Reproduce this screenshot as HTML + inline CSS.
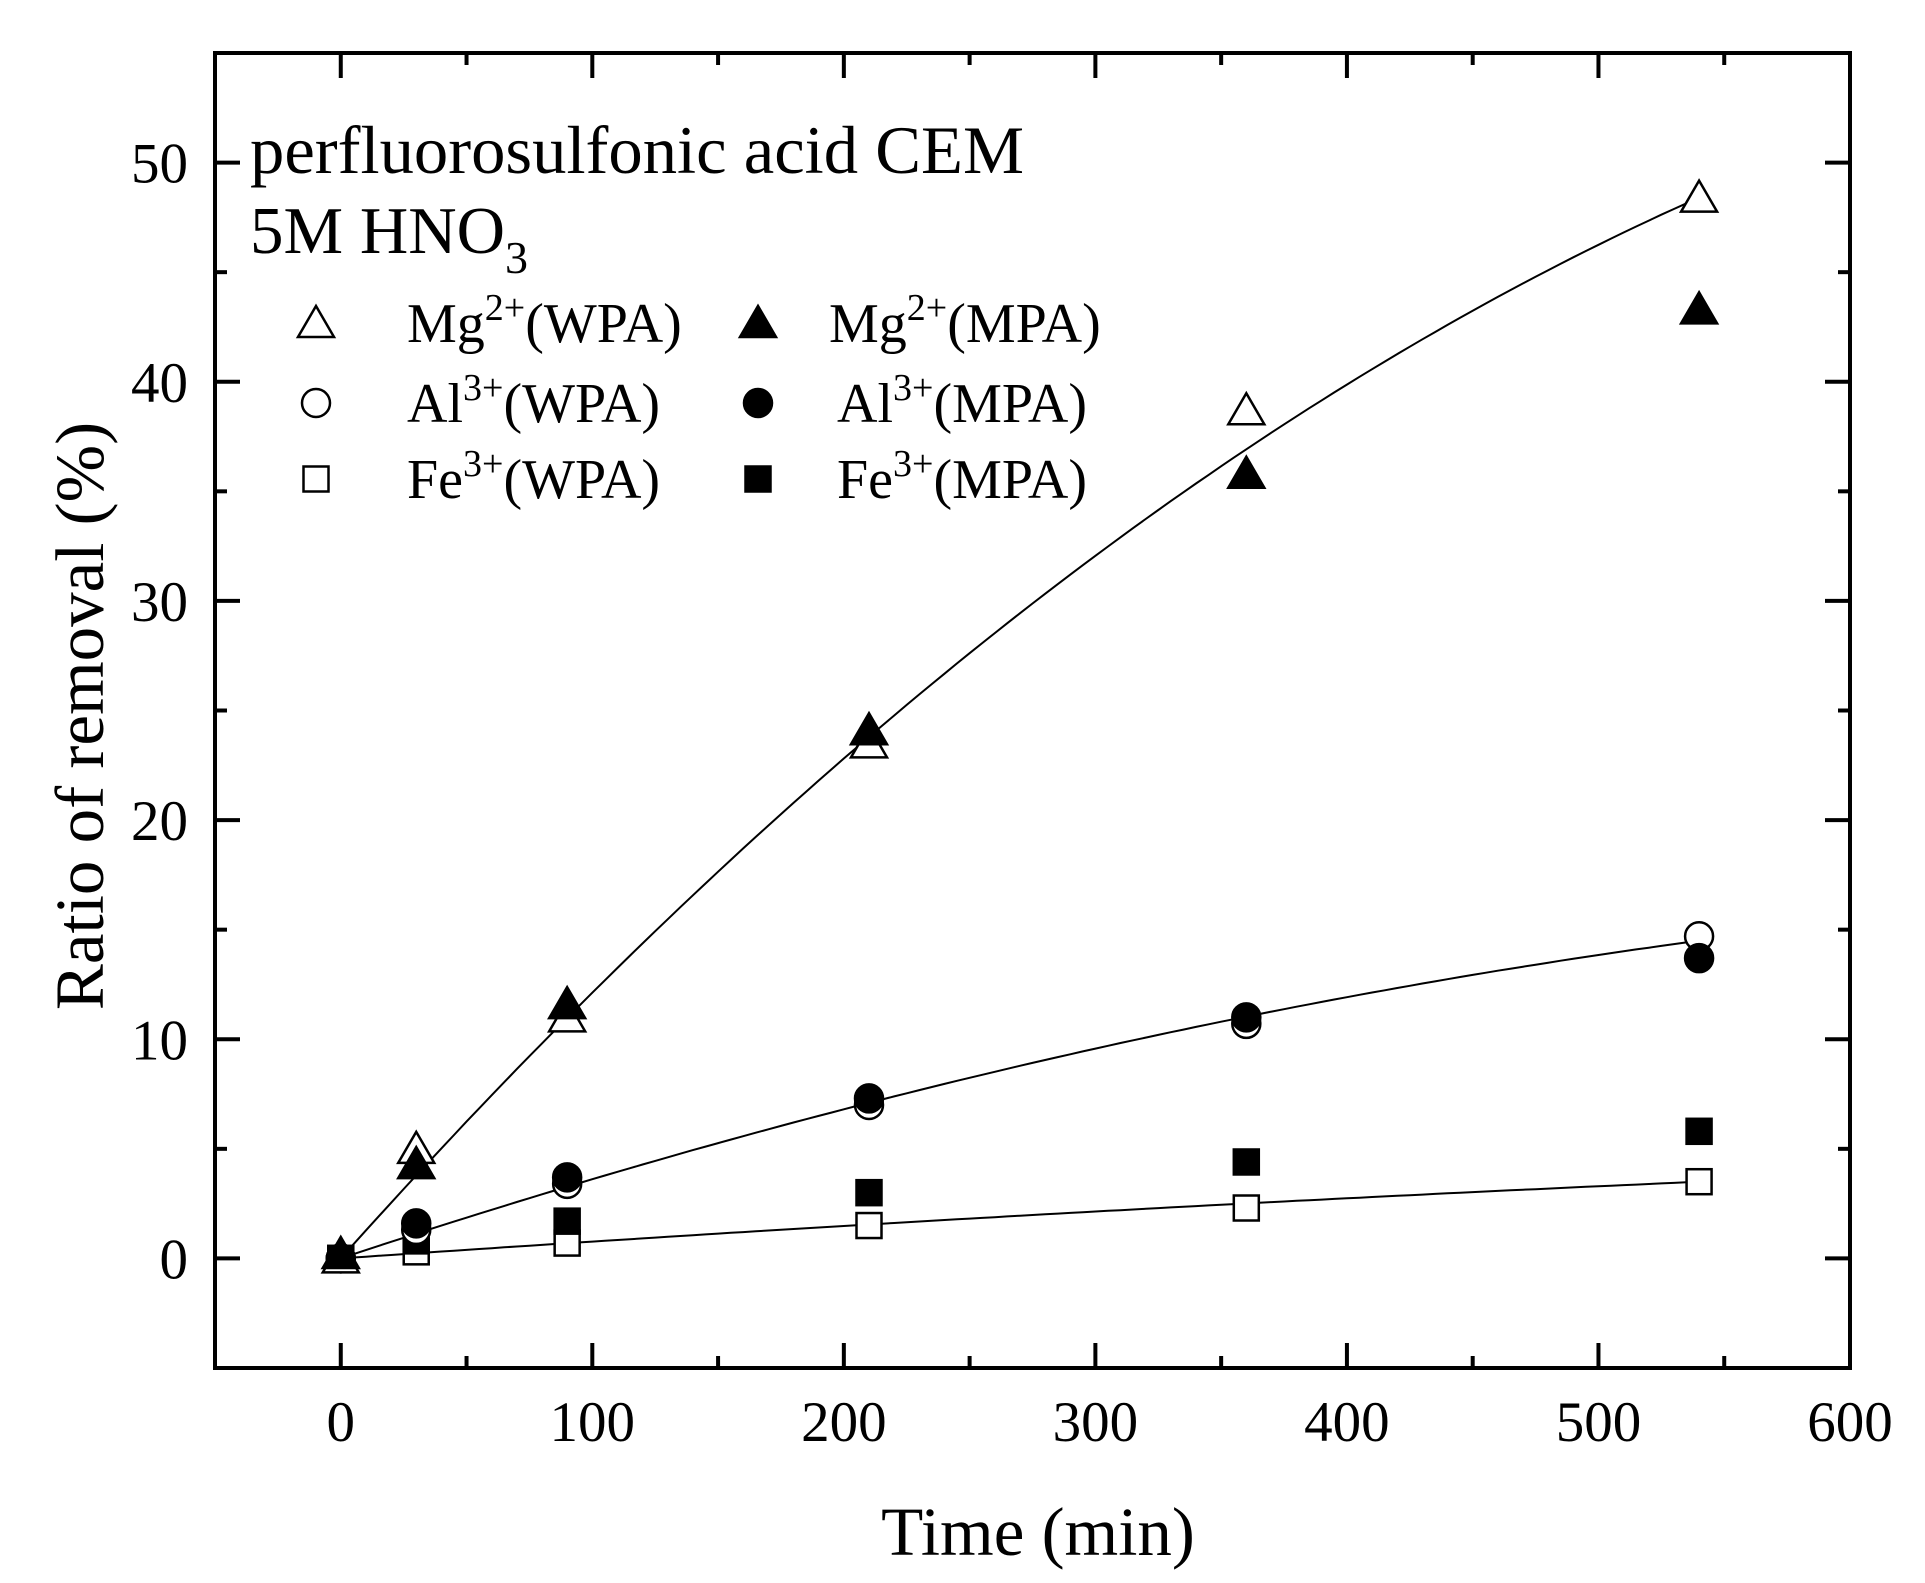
<!DOCTYPE html>
<html><head><meta charset="utf-8"><style>
html,body{margin:0;padding:0;background:#fff;}
svg{display:block;font-family:"Liberation Serif",serif;}
</style></head><body>
<svg id="c" width="1925" height="1583" viewBox="0 0 1925 1583" xmlns="http://www.w3.org/2000/svg"></svg>
<script>
const X=t=>215+(t+50)*(1635/650), Y=v=>53+(55-v)*(1315/60);
let s='';
function curve(c,d){let p=[];for(let t=0;t<=540;t+=5)p.push(X(t).toFixed(1)+','+Y(c*t+d*t*t).toFixed(1));s+=`<polyline points="${p.join(' ')}" fill="none" stroke="#000" stroke-width="2"/>`;}
curve(0.1284,-7.18e-5);curve(0.03824,-2.11e-5);curve(0.00795,-2.73e-6);
function tri(x,y,f){s+=`<polygon points="${x},${y-17} ${x-18},${y+14} ${x+18},${y+14}" fill="${f?'#000':'#fff'}" stroke="#000" stroke-width="2.5"/>`;}
function cir(x,y,f){s+=`<circle cx="${x}" cy="${y}" r="14" fill="${f?'#000':'#fff'}" stroke="#000" stroke-width="2.5"/>`;}
function sq(x,y,f){s+=`<rect x="${x-12.5}" y="${y-12.5}" width="25" height="25" fill="${f?'#000':'#fff'}" stroke="#000" stroke-width="2.5"/>`;}
const T=[0,30,90,210,360,540];
const d={mw:[0,5.0,11.0,23.5,38.7,48.4],mm:[0.2,4.3,11.6,24.1,35.8,43.3],aw:[0,1.3,3.4,7.0,10.7,14.7],am:[0,1.6,3.7,7.3,11.0,13.7],fw:[0,0.3,0.7,1.5,2.3,3.5],fm:[0,0.8,1.7,3.0,4.4,5.8]};
T.forEach((t,i)=>{sq(X(t),Y(d.fw[i]),0);});
T.forEach((t,i)=>{sq(X(t),Y(d.fm[i]),1);});
T.forEach((t,i)=>{cir(X(t),Y(d.aw[i]),0);});
T.forEach((t,i)=>{cir(X(t),Y(d.am[i]),1);});
T.forEach((t,i)=>{tri(X(t),Y(d.mw[i]),0);});
T.forEach((t,i)=>{tri(X(t),Y(d.mm[i]),1);});
s+=`<rect x="215" y="53" width="1635" height="1315" fill="none" stroke="#000" stroke-width="4"/>`;
for(let t=-50;t<=600;t+=50){const x=X(t),L=t%100==0?25:12;
 s+=`<line x1="${x}" y1="1368" x2="${x}" y2="${1368-L}" stroke="#000" stroke-width="4"/><line x1="${x}" y1="53" x2="${x}" y2="${53+L}" stroke="#000" stroke-width="4"/>`;
 if(t%100==0)s+=`<text x="${x}" y="1441" font-size="57" text-anchor="middle">${t}</text>`;}
for(let v=-5;v<=55;v+=5){const y=Y(v),L=v%10==0?25:12;
 s+=`<line x1="215" y1="${y}" x2="${215+L}" y2="${y}" stroke="#000" stroke-width="4"/><line x1="1850" y1="${y}" x2="${1850-L}" y2="${y}" stroke="#000" stroke-width="4"/>`;
 if(v%10==0&&v>=0)s+=`<text x="188" y="${y+20}" font-size="57" text-anchor="end">${v}</text>`;}
s+=`<text x="1038" y="1555" font-size="69" text-anchor="middle">Time (min)</text>`;
s+=`<text transform="translate(103,716) rotate(-90)" font-size="69" text-anchor="middle">Ratio of removal (%)</text>`;
s+=`<text x="250" y="173" font-size="68" textLength="774" lengthAdjust="spacingAndGlyphs">perfluorosulfonic acid CEM</text>`;
s+=`<text x="250" y="253" font-size="67">5M HNO<tspan font-size="46" dy="20">3</tspan></text>`;
const rows=[[323,'Mg','2+',tri],[403,'Al','3+',cir],[479,'Fe','3+',sq]];
rows.forEach(([y,el,ch,f])=>{f(316,y,0);f(758,y,1);
 s+=`<text x="407" y="${y+19}" font-size="56">${el}<tspan font-size="38" dy="-22">${ch}</tspan><tspan dy="22">(WPA)</tspan></text>`;
 s+=`<text x="${el=='Mg'?829:837}" y="${y+19}" font-size="56">${el}<tspan font-size="38" dy="-22">${ch}</tspan><tspan dy="22">(MPA)</tspan></text>`;});
document.getElementById('c').innerHTML=s;
</script>
</body></html>
